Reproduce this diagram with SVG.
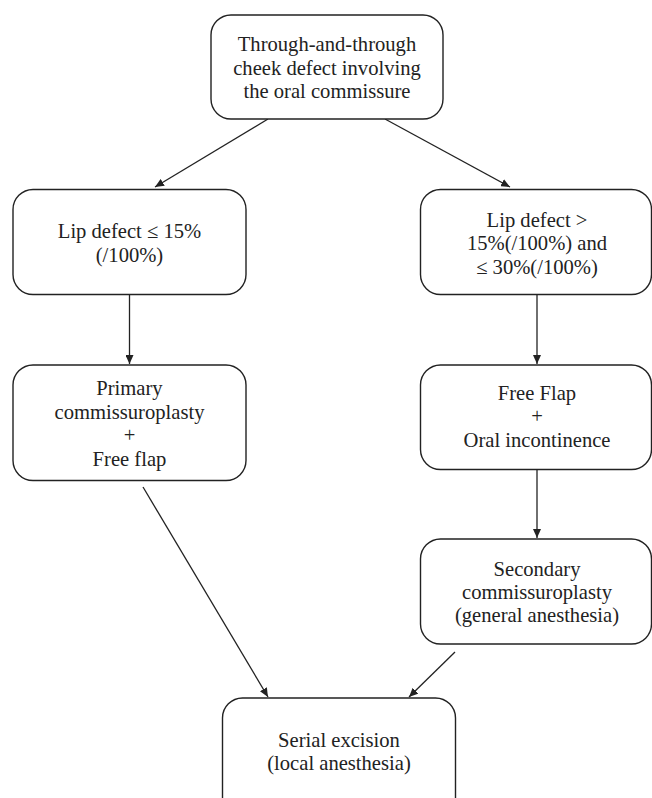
<svg xmlns="http://www.w3.org/2000/svg" width="652" height="798" viewBox="0 0 652 798">
<style>
.box{fill:#fff;stroke:#222;stroke-width:1.4}
.t{font-family:"Liberation Serif","Times New Roman",serif;font-size:20.6px;fill:#222;text-anchor:middle}
.c{stroke:#222;stroke-width:1.3;fill:none;marker-end:url(#ah)}
</style>
<defs>
<marker id="ah" markerWidth="10" markerHeight="8" refX="9" refY="4" orient="auto" markerUnits="userSpaceOnUse">
<path d="M0,0 L9,4 L0,8 Z" fill="#222"/>
</marker>
</defs>
<rect width="652" height="798" fill="#fff"/>
<g id="connectors">
<line class="c" x1="268" y1="119" x2="155" y2="187"/>
<line class="c" x1="385" y1="119" x2="510" y2="187"/>
<line class="c" x1="129.5" y1="294" x2="129.5" y2="364"/>
<line class="c" x1="537" y1="294" x2="537" y2="364"/>
<line class="c" x1="537" y1="469" x2="537" y2="538"/>
<line class="c" x1="143" y1="487" x2="268" y2="697"/>
<line class="c" x1="455" y1="652" x2="409" y2="697"/>
</g>
<g id="top">
<rect class="box" x="211" y="15" width="232" height="104" rx="20"/>
<text class="t" x="327" y="51">Through-and-through</text>
<text class="t" x="327" y="74.5">cheek defect involving</text>
<text class="t" x="327" y="98">the oral commissure</text>
</g>
<g id="lip-small">
<rect class="box" x="13" y="189.5" width="233" height="105" rx="20"/>
<text class="t" x="129.5" y="238">Lip defect ≤  15%</text>
<text class="t" x="129.5" y="262">(/100%)</text>
</g>
<g id="lip-large">
<rect class="box" x="420.5" y="189.5" width="231" height="105" rx="20"/>
<text class="t" x="537" y="227">Lip defect &gt;</text>
<text class="t" x="537" y="250">15%(/100%) and</text>
<text class="t" x="537" y="273.5">≤  30%(/100%)</text>
</g>
<g id="primary">
<rect class="box" x="13" y="365" width="233" height="115.5" rx="20"/>
<text class="t" x="129.5" y="395">Primary</text>
<text class="t" x="129.5" y="418.5">commissuroplasty</text>
<text class="t" x="129.5" y="442">+</text>
<text class="t" x="129.5" y="466">Free flap</text>
</g>
<g id="freeflap">
<rect class="box" x="420.5" y="365" width="231" height="104.5" rx="20"/>
<text class="t" x="537" y="400">Free Flap</text>
<text class="t" x="537" y="423">+</text>
<text class="t" x="537" y="447">Oral incontinence</text>
</g>
<g id="secondary">
<rect class="box" x="420.5" y="539" width="231" height="105" rx="20"/>
<text class="t" x="537" y="576">Secondary</text>
<text class="t" x="537" y="599">commissuroplasty</text>
<text class="t" x="537" y="622">(general anesthesia)</text>
</g>
<g id="serial">
<rect class="box" x="222.5" y="698" width="233" height="120" rx="20"/>
<text class="t" x="339" y="747">Serial excision</text>
<text class="t" x="339" y="770">(local anesthesia)</text>
</g>
</svg>
